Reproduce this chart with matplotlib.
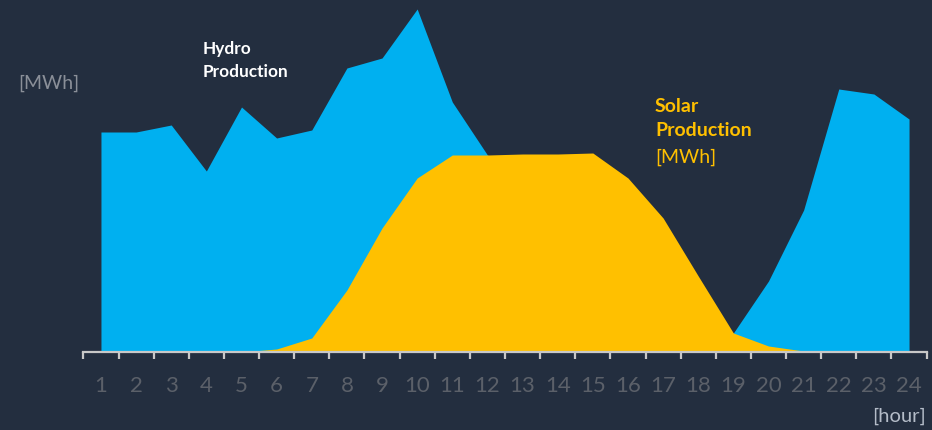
import matplotlib
matplotlib.use("Agg")
import matplotlib.pyplot as plt
import numpy as np

plt.rcParams['font.family'] = ['Lato', 'DejaVu Sans']

# Hourly production profile
hours = list(range(1, 25))
hydro = [220, 220, 227, 181, 245, 214, 222, 284, 294, 343, 250, 197,
         180, 150, 120, 90, 60, 35, 19, 71, 142, 263, 258, 233]
solar = [0, 0, 0, 0, 0, 3, 14, 62, 124, 174, 197, 197,
         198, 198, 199, 174, 134, 76, 19, 6, 1, 0, 0, 0]
tick_labels = [str(h) for h in hours]

BG = '#232e3f'
HYDRO_C = '#00b0f0'
SOLAR_C = '#ffc000'

fig = plt.figure(figsize=(9.32, 4.30), dpi=100, facecolor=BG)
ax = fig.add_axes([83.4 / 932, 78 / 430, 843.2 / 932, 343 / 430])
ax.set_facecolor(BG)

ax.fill_between(hours, 0, hydro, color=HYDRO_C, linewidth=0, zorder=2)
ax.fill_between(hours, 0, solar, color=SOLAR_C, linewidth=0, zorder=3)

ax.set_xlim(0.5, 24.5)
ax.set_ylim(0, 343)

for s in ('top', 'right', 'left'):
    ax.spines[s].set_visible(False)
ax.spines['bottom'].set_color('#c8c8c8')
ax.spines['bottom'].set_linewidth(1.6)
ax.spines['bottom'].set_zorder(5)

ax.set_yticks([])
ax.set_xticks(np.arange(0.5, 25, 1.0))
ax.set_xticklabels([])
ax.tick_params(axis='x', which='major', direction='out', length=5,
               width=1.6, color='#c8c8c8')
ax.set_xticks(hours, minor=True)
ax.set_xticklabels(tick_labels, minor=True)
ax.tick_params(axis='x', which='minor', length=0, pad=17,
               labelsize=16, labelcolor='#5b6069')

fig.text(18 / 932, 1 - 83 / 430, '[MWh]', color='#8a8f98', fontsize=14,
         ha='left', va='center')
fig.text(926 / 932, 1 - 416 / 430, '[hour]', color='#b4bcc8', fontsize=14.5,
         ha='right', va='center')

fig.text(203 / 932, 1 - 60.5 / 430, 'Hydro\nProduction', color='white',
         fontsize=12.4, fontweight='bold', ha='left', va='center',
         linespacing=1.5)

fig.text(655 / 932, 1 - 118.5 / 430, 'Solar\nProduction', color=SOLAR_C,
         fontsize=14, fontweight='bold', ha='left', va='center',
         linespacing=1.5)
fig.text(655 / 932, 1 - 157 / 430, '[MWh]', color=SOLAR_C,
         fontsize=14, ha='left', va='center')

fig.savefig('out.png', dpi=100, facecolor=BG)
